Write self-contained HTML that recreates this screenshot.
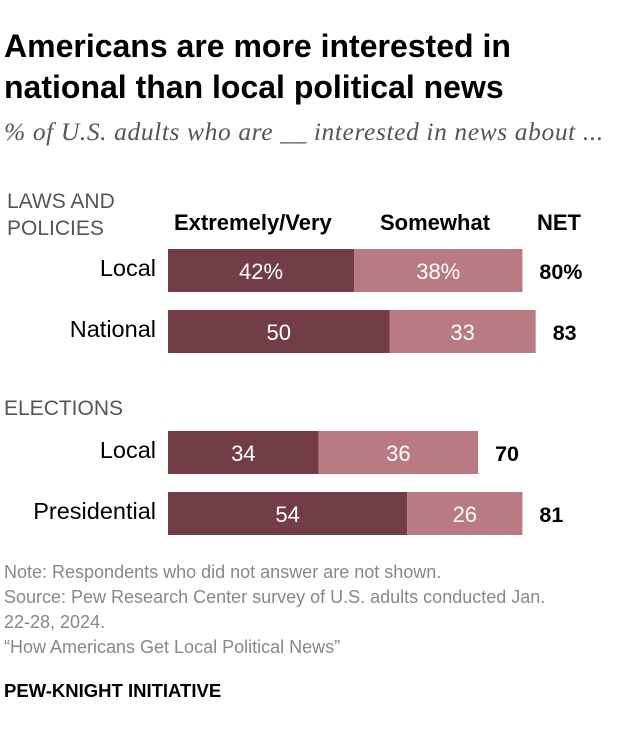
<!DOCTYPE html>
<html><head><meta charset="utf-8"><style>
body{margin:0;background:#fff;font-family:"Liberation Sans",sans-serif;}
#wrap{position:relative;width:620px;height:736px;overflow:hidden;}
.t{position:absolute;white-space:nowrap;}
</style></head><body>
<div id="wrap">
<div class="t" style="left:4px;top:26px;font-size:32px;font-weight:bold;line-height:41px;color:#000;">Americans are more interested in<br>national than local political news</div>
<div class="t" style="left:4px;top:117px;font-size:25.5px;font-style:italic;font-family:'Liberation Serif',serif;color:#555;letter-spacing:0.6px;">% of U.S. adults who are __ interested in news about ...</div>
<div class="t" style="left:7px;top:188px;font-size:21px;line-height:27px;color:#555;">LAWS AND<br>POLICIES</div>
<div class="t" style="left:174px;top:210px;font-size:22px;font-weight:bold;">Extremely/Very</div>
<div class="t" style="left:380px;top:210px;font-size:22px;font-weight:bold;">Somewhat</div>
<div class="t" style="left:537px;top:210px;font-size:22px;font-weight:bold;">NET</div>
<div class="t" style="left:4px;top:397px;font-size:21px;color:#555;">ELECTIONS</div>
<svg id="svg" width="620" height="736" style="position:absolute;left:0;top:0"></svg>
<div class="t" style="left:4px;top:560px;font-size:18px;line-height:25px;color:#888;">Note: Respondents who did not answer are not shown.<br>Source: Pew Research Center survey of U.S. adults conducted Jan.<br>22-28, 2024.<br>“How Americans Get Local Political News”</div>
<div class="t" style="left:4px;top:680px;font-size:18.5px;font-weight:bold;">PEW-KNIGHT INITIATIVE</div>
</div>
<script>
const categories=["Local","National","Local","Presidential"];
const extremely=[42,50,34,54];
const somewhat=[38,33,36,26];
const netVals=[80,83,70,81];
const rowTops=[249,310,431,492];
const x0=168,scale=4.43,h=43;
const svg=document.getElementById('svg');
const NS="http://www.w3.org/2000/svg";
function x(v){return x0+v*scale;}
function mk(tag,attrs){const e=document.createElementNS(NS,tag);for(const k in attrs)e.setAttribute(k,attrs[k]);svg.appendChild(e);return e;}
categories.forEach((c,i)=>{
 const y=rowTops[i],pct=i===0?"%":"";
 const r1=mk('rect',{x:x(0),y:y,width:x(extremely[i])-x(0),height:h,fill:'#723d47'});
 
 
 const r2=mk('rect',{x:x(extremely[i]),y:y,width:x(extremely[i]+somewhat[i])-x(extremely[i]),height:h,fill:'#b97a84'});
 
 
 const t1=mk('text',{x:(x(0)+x(extremely[i]))/2,y:y+30,'text-anchor':'middle','font-size':22,fill:'#fff'});t1.textContent=extremely[i]+pct;
 
 
 const t2=mk('text',{x:(x(extremely[i])+x(extremely[i]+somewhat[i]))/2,y:y+30,'text-anchor':'middle','font-size':22,fill:'#fff'});t2.textContent=somewhat[i]+pct;
 
 
 const t3=mk('text',{x:x(extremely[i]+somewhat[i])+17,y:y+30,'font-size':21.5,'font-weight':'bold',fill:'#000'});t3.textContent=netVals[i]+pct;
 
 
 const l=mk('text',{x:156,y:y+27,'text-anchor':'end','font-size':23.5,fill:'#000'});l.textContent=c;
 
 
});
</script>
</body></html>
